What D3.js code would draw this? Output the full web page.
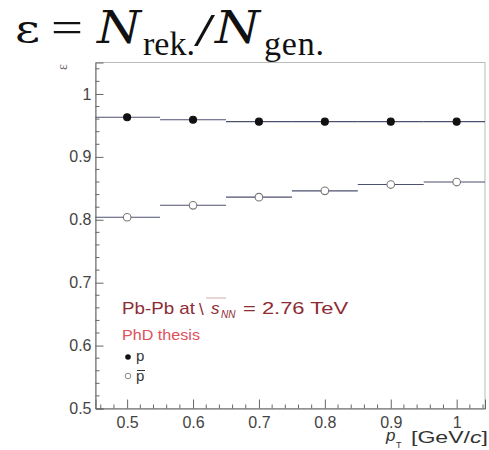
<!DOCTYPE html>
<html><head><meta charset="utf-8">
<script src="https://cdn.jsdelivr.net/npm/d3@7"></script>
<style>body{margin:0;background:#fff}svg{display:block}</style>
</head><body>
<script>
const ptCenters = [0.5, 0.6, 0.7, 0.8, 0.9, 1.0];
const binHalfWidth = 0.05;
const effProton = [0.963, 0.959, 0.956, 0.956, 0.956, 0.956];
const effAntiProton = [0.804, 0.823, 0.836, 0.846, 0.856, 0.860];
const yTicks = [0.5, 0.6, 0.7, 0.8, 0.9, 1];
const xTicks = [0.5, 0.6, 0.7, 0.8, 0.9, 1];

const W = 489, H = 450;
const svg = d3.select("body").append("svg").attr("width", W).attr("height", H);
const pL = 95.5, pR = 485, pT = 62.5, pB = 408.5;
const x = d3.scaleLinear().domain([0.452, 1.043]).range([pL, pR]);
const y = d3.scaleLinear().domain([0.5, 1.05]).range([pB, pT]);
const sans = "Liberation Sans, Arial, sans-serif";
const serif = "Liberation Serif, Times New Roman, serif";
const dserif = "DejaVu Serif, serif";

// frame
svg.append("rect").attr("x", pL).attr("y", pT).attr("width", pR - pL).attr("height", pB - pT)
  .attr("fill", "none").attr("stroke", "#bbb").attr("stroke-width", 1);

const axisCol = "#666";
// y axis
const yAxis = svg.append("g").attr("transform", `translate(${pL},0)`)
  .call(d3.axisRight(y).tickValues(yTicks).tickSize(8).tickFormat(d => d3.format("~g")(d)));
yAxis.select(".domain").attr("stroke", axisCol);
yAxis.selectAll(".tick line").attr("stroke", axisCol);
yAxis.selectAll(".tick text").attr("x", -4).attr("text-anchor", "end")
  .attr("font-family", sans).attr("font-size", 16).attr("fill", "#444");
const yMinor = d3.range(0.5, 1.05, 0.02).filter(v => Math.abs(v * 10 - Math.round(v * 10)) > 1e-6);
svg.append("g").selectAll("line").data(yMinor).join("line")
  .attr("x1", pL).attr("x2", pL + 4).attr("y1", d => y(d)).attr("y2", d => y(d))
  .attr("stroke", axisCol);

// x axis
const xAxis = svg.append("g").attr("transform", `translate(0,${pB})`)
  .call(d3.axisTop(x).tickValues(xTicks).tickSize(9).tickFormat(d => d3.format("~g")(d)));
xAxis.select(".domain").attr("stroke", axisCol);
xAxis.selectAll(".tick line").attr("stroke", axisCol);
xAxis.selectAll(".tick text").attr("y", 8).attr("dy", "0.71em")
  .attr("font-family", sans).attr("font-size", 16).attr("fill", "#444");
const xMinor = d3.range(0.46, 1.043, 0.02).filter(v => Math.abs(v * 10 - Math.round(v * 10)) > 1e-6);
svg.append("g").selectAll("line").data(xMinor).join("line")
  .attr("y1", pB).attr("y2", pB - 4).attr("x1", d => x(d)).attr("x2", d => x(d))
  .attr("stroke", axisCol);

// data
const lineCol = "#4c5170";
function drawSeries(vals, filled) {
  const g = svg.append("g");
  g.selectAll("line").data(vals).join("line")
    .attr("x1", (d, i) => x(Math.max(ptCenters[i] - binHalfWidth, 0.452)))
    .attr("x2", (d, i) => x(Math.min(ptCenters[i] + binHalfWidth, 1.043)))
    .attr("y1", d => y(d)).attr("y2", d => y(d))
    .attr("stroke", lineCol).attr("stroke-width", 1.1);
  g.selectAll("circle").data(vals).join("circle")
    .attr("cx", (d, i) => x(ptCenters[i])).attr("cy", d => y(d))
    .attr("r", filled ? 3.5 : 3.8)
    .attr("fill", filled ? "#111" : "#fff").attr("stroke", filled ? "#111" : "#777").attr("stroke-width", 1.1);
}
drawSeries(effProton, true);
drawSeries(effAntiProton, false);

// title formula (pieces placed to match reference)
function piece(txt, px, py, size, fam, italic, len, adj) {
  const el = svg.append("text").attr("x", px).attr("y", py).attr("font-family", fam)
    .attr("font-size", size).attr("font-style", italic ? "italic" : "normal").attr("fill", "#111").text(txt);
  if (len) el.attr("textLength", len).attr("lengthAdjust", adj || "spacing");
}
piece("ε", 15, 42, 40, dserif, false, 25, "spacingAndGlyphs");
piece("=", 51, 42, 44, serif, false, 32, "spacingAndGlyphs");
piece("N", 97, 43, 44, dserif, true, 44, "spacingAndGlyphs");
piece("rek.", 143, 55, 34, serif, false, 52);
piece("/", 194, 46, 46, serif, false, 21, "spacingAndGlyphs");
piece("N", 215, 43, 44, dserif, true, 45, "spacingAndGlyphs");
piece("gen.", 264, 55, 34, serif, false, 60);

// y axis title (rotated epsilon)
svg.append("text").attr("transform", "translate(62,67) rotate(-90)")
  .attr("text-anchor", "middle").attr("dominant-baseline", "central").attr("font-family", serif)
  .attr("font-size", 14).attr("fill", "#666").text("ε");

// x axis title
svg.append("text").attr("x", 386).attr("y", 441).attr("font-family", sans)
  .attr("font-style", "italic").attr("font-size", 17).attr("fill", "#333").text("p");
svg.append("text").attr("x", 396).attr("y", 448).attr("font-family", sans)
  .attr("font-size", 9).attr("fill", "#333").text("T");
const xt = svg.append("text").attr("x", 411).attr("y", 443).attr("font-family", sans)
  .attr("font-size", 17).attr("fill", "#333").attr("textLength", 77).attr("lengthAdjust", "spacingAndGlyphs");
xt.append("tspan").text("[GeV/");
xt.append("tspan").attr("font-style", "italic").text("c");
xt.append("tspan").text("]");

// annotations
const annCol = "#8e2c34";
svg.append("text").attr("x", 122).attr("y", 314).attr("font-family", sans).attr("font-size", 17)
  .attr("fill", annCol).attr("textLength", 73).attr("lengthAdjust", "spacingAndGlyphs").text("Pb-Pb at");
svg.append("text").attr("x", 199).attr("y", 315).attr("font-family", sans).attr("font-size", 17)
  .attr("fill", annCol).text("\\");
svg.append("line").attr("x1", 206).attr("x2", 226).attr("y1", 298).attr("y2", 298)
  .attr("stroke", annCol).attr("stroke-opacity", 0.5).attr("stroke-width", 0.8);
svg.append("text").attr("x", 211).attr("y", 314).attr("font-family", sans).attr("font-size", 17)
  .attr("font-style", "italic").attr("fill", annCol).text("s");
svg.append("text").attr("x", 221).attr("y", 318).attr("font-family", sans).attr("font-size", 10)
  .attr("font-style", "italic").attr("fill", annCol).text("NN");
svg.append("text").attr("x", 243).attr("y", 314).attr("font-family", sans).attr("font-size", 17)
  .attr("fill", annCol).attr("textLength", 105).attr("lengthAdjust", "spacingAndGlyphs").text("= 2.76 TeV");
svg.append("text").attr("x", 122).attr("y", 340).attr("font-family", sans).attr("font-size", 14)
  .attr("fill", "#e0505a").attr("textLength", 78).attr("lengthAdjust", "spacingAndGlyphs").text("PhD thesis");

// legend
svg.append("circle").attr("cx", 128).attr("cy", 357).attr("r", 2.8).attr("fill", "#111");
svg.append("text").attr("x", 136).attr("y", 361).attr("font-family", sans)
  .attr("font-size", 15).attr("fill", "#333").text("p");
svg.append("circle").attr("cx", 128).attr("cy", 376).attr("r", 2.8).attr("fill", "#fff").attr("stroke", "#888");
svg.append("text").attr("x", 136).attr("y", 381).attr("font-family", sans)
  .attr("font-size", 15).attr("fill", "#333").text("p");
svg.append("line").attr("x1", 137).attr("x2", 145).attr("y1", 370.5).attr("y2", 370.5)
  .attr("stroke", "#333").attr("stroke-width", 1);
</script>
</body></html>
